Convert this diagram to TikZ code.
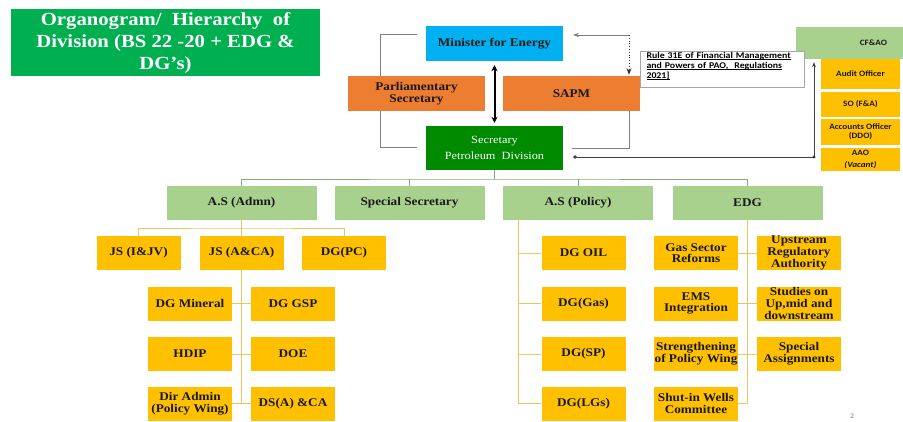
\documentclass[tikz,border=0pt]{standalone}
\usepackage{fontspec}
\setmainfont{Liberation Serif}[FakeStretch=1.12]
\newfontfamily\calfont{Carlito}[FakeStretch=1.12]
\usepackage{tikz}
\usetikzlibrary{calc}
\usetikzlibrary{arrows.meta, positioning, backgrounds}

\definecolor{titlegreen}{HTML}{00B050}
\definecolor{skyblue}{HTML}{00B0F0}
\definecolor{orangebox}{HTML}{ED7D31}
\definecolor{secgreen}{HTML}{008A00}
\definecolor{lgreen}{HTML}{A9D18E}
\definecolor{ygold}{HTML}{FFC000}
\definecolor{ylinec}{HTML}{EAC560}
\definecolor{glinec}{HTML}{84A880}

\tikzset{
    box/.style={inner sep=0.5pt, align=center, text=black!90,
        font=\bfseries\fontsize{11.8}{11.7}\selectfont},
    titlebox/.style={fill=titlegreen, text=white, align=center,
        minimum width=309pt, minimum height=67pt,
        font=\bfseries\fontsize{18.5}{22}\selectfont},
    topbox/.style={box, minimum width=137pt, minimum height=35pt,
        font=\bfseries\fontsize{11.8}{12}\selectfont},
    gbox/.style={box, fill=lgreen, minimum width=150pt, minimum height=34pt},
    ybox/.style={box, fill=ygold, minimum width=84pt, minimum height=34pt},
    cbox/.style={box, fill=ygold, minimum width=79pt,
        font=\calfont\bfseries\fontsize{8.2}{9}\selectfont},
    rulebox/.style={draw=gray!70, fill=white, align=left, text width=152pt,
        inner xsep=6pt, minimum height=36pt,
        font=\calfont\bfseries\fontsize{8.8}{10}\selectfont},
    gline/.style={draw=glinec, line width=0.8pt},
    yline/.style={draw=ylinec, line width=0.8pt},
    kline/.style={draw=gray, line width=0.7pt},
}
\newcommand\ruleline[1]{\underline{\smash{#1}}}

\begin{document}
\begin{tikzpicture}[x=1pt, y=-1pt, >=Stealth]
    \useasboundingbox (0,0) rectangle (903,421);

    % -------------------------------------------------------
    % 1. Title and top of the division
    % -------------------------------------------------------
    \node[titlebox] (title) at (165.5,42.5)
        {Organogram/\ \ Hierarchy\ \ of\\Division (BS 22 -20 + EDG \&\\DG’s)};

    \node[topbox, fill=skyblue] (minister) at (494.5,43.5) {Minister for Energy};
    \node[topbox, fill=orangebox] (parlsec) at (416.5,93.5) {Parliamentary\\Secretary};
    \node[topbox, fill=orangebox] (sapm) at (571.5,93.5) {SAPM};
    \node[topbox, fill=secgreen, minimum height=44pt, text=white,
        font=\fontsize{11}{16}\selectfont] (secretary) at (494.5,148)
        {Secretary\\Petroleum\ \ Division};

    % -------------------------------------------------------
    % 2. Finance wing (CF&AO) and the rule note
    % -------------------------------------------------------
    \node[box, fill=lgreen, minimum width=107pt, minimum height=32pt,
        text width=75pt, align=right,
        font=\calfont\bfseries\fontsize{8.2}{9}\selectfont] (cfao) at (849.5,43) {CF\&AO};
    \node[cbox, minimum height=30pt] (audit) at (860.5,74) {Audit Officer};
    \node[cbox, minimum height=25pt] (sofa) at (860.5,104.5) {SO (F\&A)};
    \node[cbox, minimum height=26pt] (acco) at (860.5,132) {Accounts Officer\\(DDO)};
    \node[cbox, minimum height=23pt] (aao) at (860.5,159.5) {AAO\\[2.5pt]\textit{(Vacant)}};

    \node[rulebox] (rule) at (722.5,69)
        {\ruleline{Rule 31E of Financial Management}\\
         \ruleline{and Powers of PAO,\ \ Regulations}\\
         \ruleline{2021]}};

    % -------------------------------------------------------
    % 3. Second level
    % -------------------------------------------------------
    \node[gbox] (asadmn) at (241.5,203) {A.S (Admn)};
    \node[gbox] (spsec) at (409.5,203) {Special Secretary};
    \node[gbox] (aspol) at (578,203) {A.S (Policy)};
    \node[gbox] (edg) at (747.5,203) {EDG};

    % -------------------------------------------------------
    % 4. Wings under A.S (Admn)
    % -------------------------------------------------------
    \node[ybox] (jsij) at (138.5,253) {JS (I\&JV)};
    \node[ybox] (jsac) at (241.5,253) {JS (A\&CA)};
    \node[ybox] (dgpc) at (344,253) {DG(PC)};

    \node[ybox] (dgmin) at (190,303.5) {DG Mineral};
    \node[ybox] (dggsp) at (293,303.5) {DG GSP};
    \node[ybox] (hdip) at (190,354) {HDIP};
    \node[ybox] (doe) at (293,354) {DOE};
    \node[ybox] (diradm) at (190,403.5) {Dir Admin\\(Policy Wing)};
    \node[ybox] (dsaca) at (293,403.5) {DS(A) \&CA};

    % -------------------------------------------------------
    % 5. Wings under A.S (Policy) and EDG
    % -------------------------------------------------------
    \foreach \n/\t/\y in {dgoil/DG OIL/253, dggas/DG(Gas)/303.5,
                          dgsp/DG(SP)/354, dglg/DG(LGs)/403.5} {
        \node[ybox] (\n) at (583.5,\y) {\t};
    }

    \node[ybox] (gsr) at (696,253) {Gas Sector\\Reforms};
    \node[ybox] (ems) at (696,303.5) {EMS\\Integration};
    \node[ybox] (spw) at (696,354) {Strengthening\\of Policy Wing};
    \node[ybox] (swc) at (696,403.5) {Shut-in Wells\\Committee};
    \node[ybox] (ura) at (799,253) {Upstream\\Regulatory\\Authority};
    \node[ybox] (sud) at (799,303.5) {Studies on\\Up,mid and\\downstream};
    \node[ybox] (spa) at (799,354) {Special\\Assignments};

    \node[font=\calfont\fontsize{7}{8}\selectfont, text=gray] (pnum) at (852,416) {2};

    % -------------------------------------------------------
    % 6. Connectors (kept behind the boxes)
    % -------------------------------------------------------
    \coordinate (ltop) at (380,34);
    \coordinate (lbot) at (380,147);
    \coordinate (rcorner) at (629,148);
    \coordinate (dcorner) at (629,35);
    \coordinate (fcorner) at (814,157);
    \coordinate (bus2) at (494.5,179);
    \coordinate (bus3) at (241.5,228);
    \coordinate (polsp) at (518,220);

    \begin{scope}[on background layer]
        % brackets round the minister and the secretary
        \draw[kline, shorten <=9pt, shorten >=9pt]
            (minister.west |- ltop) -- (ltop) -- (lbot) -- (secretary.west |- lbot);
        \draw[kline, shorten <=9pt]
            (secretary.east |- rcorner) -- (rcorner) -- (sapm.south -| rcorner);

        % second level
        \draw[gline] (secretary.south) -- (secretary.south |- bus2);
        \draw[gline] (asadmn.north) |- (bus2) -| (edg.north);
        \foreach \n in {spsec, aspol} {
            \draw[gline] (\n.north) -- (\n.north |- bus2);
        }

        % A.S (Admn)
        \draw[yline] (asadmn.south) -- (jsac.north);
        \draw[yline] (jsij.north) |- (bus3) -| (dgpc.north);
        \draw[yline] (jsac.south) -- (jsac.south |- dsaca.west);
        \draw[yline] (dgmin.east) -- (dggsp.west);
        \draw[yline] (hdip.east) -- (doe.west);
        \draw[yline] (diradm.east) -- (dsaca.west);

        % A.S (Policy)
        \draw[yline] (polsp) |- (dglg.west);
        \foreach \n in {dgoil, dggas, dgsp} {
            \draw[yline] (\n.west) -- (\n.west -| polsp);
        }

        % EDG
        \draw[yline] (edg.south) |- (swc.east);
        \draw[yline] (gsr.east) -- (ura.west);
        \draw[yline] (ems.east) -- (sud.west);
        \draw[yline] (spw.east) -- (spa.west);
    \end{scope}

    % minister <-> secretary
    \draw[line width=2pt, {Stealth[length=6pt,width=6pt]}-{Stealth[length=6pt,width=6pt]},
        shorten <=4pt, shorten >=3pt] (minister.south) -- (secretary.north);

    % minister -> SAPM
    \draw[gray, line width=0.6pt, <-, shorten <=10pt] (minister.east |- dcorner) -- (dcorner);
    \draw[black!80, dotted, line width=0.8pt, ->, shorten >=1pt] (dcorner) -- (dcorner |- sapm.north);

    % secretary -> CF&AO
    \draw[black!75, line width=0.7pt, {Circle[length=3.5pt]}-{Stealth[length=5pt]},
        shorten <=10pt, shorten >=3pt]
        (secretary.east |- fcorner) -- (fcorner) -- (fcorner |- cfao.south);
    \fill[black!80] (fcorner) circle (1.6pt);
\end{tikzpicture}
\end{document}
